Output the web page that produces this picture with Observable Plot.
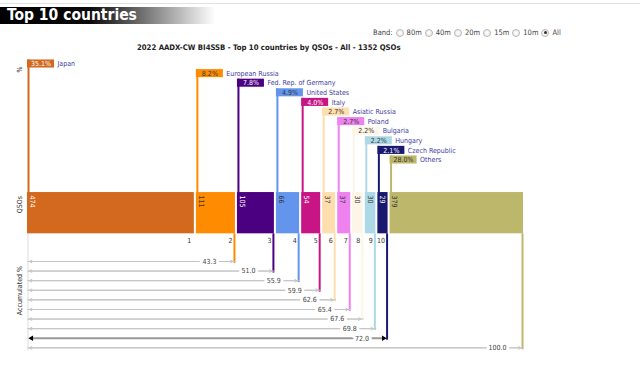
<!DOCTYPE html>
<html>
<head>
<meta charset="utf-8">
<script src="https://cdn.jsdelivr.net/npm/d3@7"></script>
<script src="https://cdn.jsdelivr.net/npm/@observablehq/plot@0.6"></script>
<style>
  body { margin: 0; background: #fff; font-family: "DejaVu Sans Condensed", "DejaVu Sans", sans-serif; }
  #hdr { position: relative; width: 640px; height: 56px; }
  .topline { position: absolute; left: 0; right: 0; top: 3px; height: 1px; background: #e2e2e2; }
  .tbox { position: absolute; left: 0; top: 7px; width: 215px; height: 17px;
          background: linear-gradient(to right, #000 0%, #0a0a0a 42%, #fff 100%); }
  .tbox span { position: absolute; left: 7px; top: -1px; color: #fff; font-weight: bold; font-size: 15.5px; line-height: 19px; white-space: nowrap; }
  .band { position: absolute; left: 373px; top: 28px; font-size: 7.5px; color: #444; display: flex; align-items: center; white-space: nowrap; }
  .radio { display: inline-block; width: 6px; height: 6px; border: 1px solid #b8b8b8; border-radius: 50%;
           background: radial-gradient(circle, #fff 0%, #e6e6e6 100%); margin: 0 3px 0 3px; position: relative; }
  .radio.on::after { content: ""; position: absolute; left: 1.5px; top: 1.5px; width: 3px; height: 3px; border-radius: 50%; background: #333; }
  .ctitle { position: absolute; left: 137px; top: 43px; font-size: 7.7px; font-weight: bold; color: #222; white-space: nowrap; }
</style>
</head>
<body>
<div id="hdr">
  <div class="topline"></div>
  <div class="tbox"><span>Top 10 countries</span></div>
  <div class="band" id="band"></div>
  <div class="ctitle" id="ctitle"></div>
</div>
<div id="chart"></div>
<script>
// ---- data ----
const chartTitle = "2022 AADX-CW BI4SSB - Top 10 countries by QSOs - All - 1352 QSOs";
const bands = ["80m", "40m", "20m", "15m", "10m", "All"];
const selectedBand = "All";
const countries = ["Japan", "European Russia", "Fed. Rep. of Germany", "United States", "Italy",
                   "Asiatic Russia", "Poland", "Bulgaria", "Hungary", "Czech Republic", "Others"];
const qsos = [474, 111, 105, 66, 54, 37, 37, 30, 30, 29, 379];
const shares = [35.1, 8.2, 7.8, 4.9, 4.0, 2.7, 2.7, 2.2, 2.2, 2.1, 28.0];
const accumulated = [43.3, 51.0, 55.9, 59.9, 62.6, 65.4, 67.6, 69.8, 72.0, 100.0];
const palette = ["#d2691e", "#ff8c00", "#4b0082", "#6495ed", "#c71585",
                 "#ffdead", "#ee82ee", "#fdf5e6", "#add8e6", "#191970", "#bdb76b"];

// ---- header ----
document.getElementById("ctitle").textContent = chartTitle;
const band = document.getElementById("band");
band.append("Band:");
bands.forEach(b => {
  const r = document.createElement("span");
  r.className = "radio" + (b === selectedBand ? " on" : "");
  band.append(r, b);
});

// ---- layout (row units) ----
const H = 318, rowPx = 9.6, row0 = 7.5;
const barTop = 13.39, barBottom = 17.69, rankRow = 18.45, accRow0 = 20.57;
const gap = 5.7; // gap between bars, in QSO units
const total = d3.sum(qsos);
let cum = 0;
const data = countries.map((c, i) => {
  const start = cum + i * gap;
  cum += qsos[i];
  return {country: c, i, q: qsos[i], pct: shares[i], start, end: start + qsos[i]};
});
const xMax = total + (countries.length - 1) * gap;
const acc = accumulated.map((a, j) => {
  const b = data[j + 1];
  return {country: b.country, end: b.end, row: accRow0 + j, label: a.toFixed(1), emph: j + 1 === 9};
});
const accNormal = acc.filter(d => !d.emph);
const accEmph = acc.filter(d => d.emph);
const lastRow = accRow0 + acc.length - 1;
const colorOf = d3.scaleOrdinal(countries, palette);
const txt = d => d3.lab(colorOf(d.country)).l > 58 ? "#333" : "#fff";
const axisTitles = [
  {label: "%", y: 0.57},
  {label: "QSOs", y: 14.64},
  {label: "Accumulated %", y: 23.6}
];

const chart = Plot.plot({
  width: 640, height: H,
  marginLeft: 27, marginRight: 117, marginTop: 0, marginBottom: 0,
  x: {domain: [0, xMax], axis: null},
  y: {domain: [-row0 / rowPx, (H - row0) / rowPx], reverse: true, axis: null},
  color: {domain: countries, range: palette},
  style: {fontFamily: "'DejaVu Sans Condensed','DejaVu Sans',sans-serif", fontSize: "7px", background: "transparent", overflow: "visible"},
  marks: [
    Plot.ruleX([0], {y1: barBottom, y2: lastRow + 0.3, stroke: "#dcdcdc", dx: 0.5}),
    Plot.ruleX(data, {x: "start", y1: d => d.i - 0.42, y2: barTop, stroke: "country", strokeWidth: 2, dx: 1}),
    Plot.rect(data, {x1: "start", x2: "start", y1: d => d.i - 0.42, y2: d => d.i + 0.42, fill: "country", insetRight: -27}),
    Plot.text(data, {x: "start", y: "i", text: d => d.pct.toFixed(1) + "%", dx: 13.5, fill: txt}),
    Plot.text(data, {x: "start", y: "i", text: "country", textAnchor: "start", dx: 30, fill: "#3c3ca0"}),
    Plot.rect(data, {x1: "start", x2: "end", y1: barTop, y2: barBottom, fill: "country"}),
    Plot.text(data, {x: "start", y: barTop, text: d => String(d.q), rotate: 90, textAnchor: "start", dx: 4.5, dy: 3, fill: txt}),
    Plot.text(data.slice(0, 10), {x: "end", y: rankRow, text: d => String(d.i + 1), textAnchor: "end", dx: -3, fill: "#333"}),
    Plot.ruleX(acc, {x: "end", y1: barBottom, y2: d => d.row + 0.2, stroke: "country", strokeWidth: 2, dx: -1}),
    Plot.arrow(accNormal, {x1: "end", x2: 0, y1: "row", y2: "row", insetEnd: 2, headLength: 4, stroke: "#c4c4c4", strokeWidth: 1}),
    Plot.arrow(accNormal, {x1: 0, x2: "end", y1: "row", y2: "row", insetEnd: 2.5, headLength: 4, stroke: "#c4c4c4", strokeWidth: 1}),
    Plot.ruleY(accEmph, {x1: 0, x2: "end", y: "row", stroke: "#999", strokeWidth: 2, insetLeft: 3, insetRight: 4}),
    Plot.dot(accEmph, {x: "end", y: "row", symbol: "triangle2", rotate: 90, r: 2.6, fill: "#000", dx: -4.5}),
    Plot.dot(accEmph, {x: 0, y: "row", symbol: "triangle2", rotate: -90, r: 2.6, fill: "#000", dx: 4}),
    Plot.text(acc, {x: "end", y: "row", text: "label", dx: -26, fill: "#444", stroke: "#fff", strokeWidth: 6, paintOrder: "stroke"}),
    Plot.text(axisTitles, {frameAnchor: "left", y: "y", text: "label", dx: -8, rotate: -90, textAnchor: "middle", fill: "#333"})
  ]
});
document.getElementById("chart").append(chart);
</script>
</body>
</html>
